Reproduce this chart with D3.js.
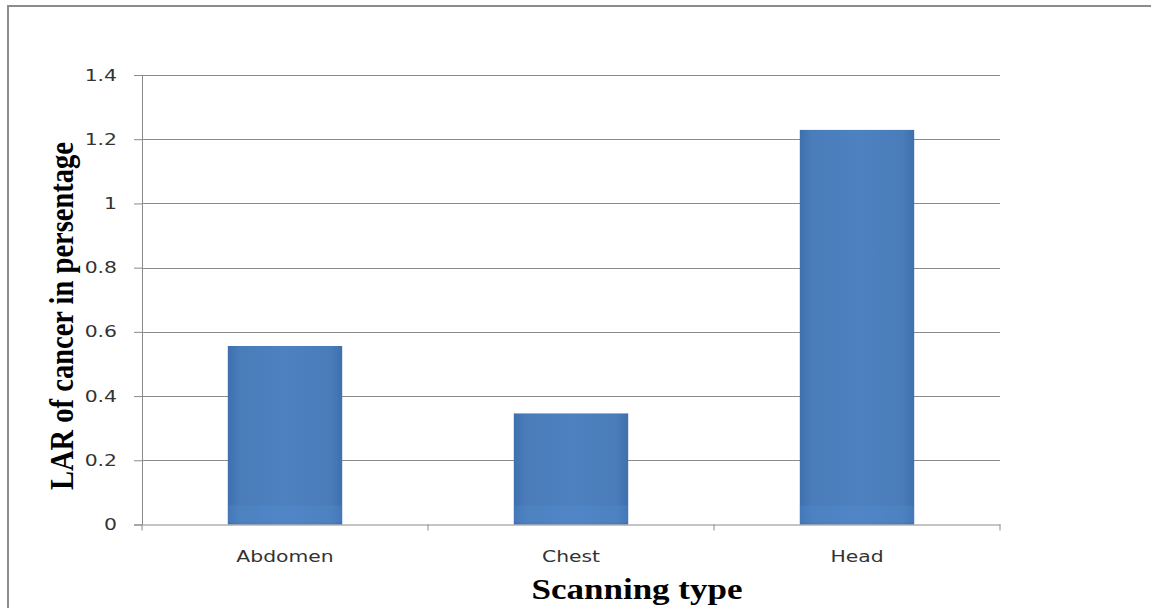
<!DOCTYPE html>
<html>
<head>
<meta charset="utf-8">
<script src="https://cdn.jsdelivr.net/npm/d3@7"></script>
<style>
  body { margin: 0; background: #fff; }
</style>
</head>
<body>
<div id="chart"></div>
<script>
// Data
const categories = ["Abdomen", "Chest", "Head"];
const larValues = [0.556, 0.346, 1.229];
const yTicks = [0, 0.2, 0.4, 0.6, 0.8, 1, 1.2, 1.4];

const W = 1151, H = 608;
const margin = { top: 75, right: 151, bottom: 83.5, left: 142 };
const width = W - margin.left - margin.right;
const height = H - margin.top - margin.bottom;

// the source picture is stretched sideways, so text gets widened a bit
const stretch = 1.27;

const root = d3.select("#chart")
  .append("svg")
  .attr("width", W)
  .attr("height", H);

// Outer frame (top and left edges visible)
root.append("path")
  .attr("d", `M8,${H} V6 H${W}`)
  .attr("fill", "none")
  .attr("stroke", "#8c8c8c")
  .attr("stroke-width", 2);

const defs = root.append("defs");
const grad = defs.append("linearGradient")
  .attr("id", "barGrad")
  .attr("x1", "0").attr("x2", "1").attr("y1", "0").attr("y2", "0");
grad.append("stop").attr("offset", "0%").attr("stop-color", "#3f6fae");
grad.append("stop").attr("offset", "10%").attr("stop-color", "#4a7cba");
grad.append("stop").attr("offset", "50%").attr("stop-color", "#4e81c0");
grad.append("stop").attr("offset", "90%").attr("stop-color", "#4a7cba");
grad.append("stop").attr("offset", "100%").attr("stop-color", "#3f6fae");

const svg = root.append("g")
  .attr("transform", `translate(${margin.left},${margin.top})`);

const x = d3.scaleBand()
  .domain(categories)
  .range([0, width])
  .paddingInner(0.6)
  .paddingOuter(0.3);

const y = d3.scaleLinear()
  .domain([0, 1.4])
  .range([height, 0]);

// Gridlines
svg.append("g")
  .selectAll("line")
  .data(yTicks.filter(d => d > 0))
  .enter()
  .append("line")
  .attr("x1", 0).attr("x2", width)
  .attr("y1", d => Math.round(y(d)) + 0.5)
  .attr("y2", d => Math.round(y(d)) + 0.5)
  .attr("stroke", "#8a8a8a");

// Bars
svg.selectAll(".bar")
  .data(categories)
  .enter()
  .append("rect")
  .attr("class", "bar")
  .attr("x", d => x(d))
  .attr("y", (d, i) => y(larValues[i]))
  .attr("width", x.bandwidth())
  .attr("height", (d, i) => height - y(larValues[i]))
  .attr("fill", "url(#barGrad)");

// lighter strip near the base of each bar
svg.selectAll(".base")
  .data(categories)
  .enter()
  .append("rect")
  .attr("class", "base")
  .attr("x", d => x(d))
  .attr("y", y(0) - 19)
  .attr("width", x.bandwidth())
  .attr("height", 17)
  .attr("fill", "#5a9ae0")
  .attr("opacity", 0.2);

function widen(sel) {
  sel.each(function() {
    const w = this.getComputedTextLength();
    d3.select(this)
      .attr("textLength", w * stretch)
      .attr("lengthAdjust", "spacingAndGlyphs");
  });
}

// Y axis
const yAxis = svg.append("g")
  .call(d3.axisLeft(y).tickValues(yTicks).tickSize(8).tickPadding(17).tickFormat(d3.format("")));
yAxis.select(".domain").attr("stroke", "#8a8a8a");
yAxis.selectAll(".tick line").attr("stroke", "#8a8a8a");
yAxis.selectAll("text")
  .attr("fill", "#333")
  .style("font-family", "'DejaVu Sans', sans-serif")
  .style("font-size", "16px")
  .call(widen);

// X axis with ticks at band boundaries
const xAxis = svg.append("g")
  .attr("transform", `translate(0,${height})`)
  .call(d3.axisBottom(x).tickSize(0).tickPadding(26));
xAxis.select(".domain").attr("stroke", "#8a8a8a");
xAxis.selectAll("text")
  .attr("fill", "#333")
  .style("font-family", "'DejaVu Sans', sans-serif")
  .style("font-size", "16px")
  .call(widen);

const step = x.step();
xAxis.selectAll(".sep")
  .data(d3.range(categories.length + 1))
  .enter()
  .append("line")
  .attr("class", "sep")
  .attr("x1", i => i * step).attr("x2", i => i * step)
  .attr("y1", 0).attr("y2", 6)
  .attr("stroke", "#8a8a8a");

// Axis titles
svg.append("text")
  .attr("x", 637 - margin.left)
  .attr("y", 599 - margin.top)
  .attr("text-anchor", "middle")
  .attr("textLength", 211)
  .attr("lengthAdjust", "spacingAndGlyphs")
  .style("font-family", "'Liberation Serif', 'Times New Roman', serif")
  .style("font-weight", "bold")
  .style("font-size", "30px")
  .text("Scanning type");

svg.append("text")
  .attr("transform", "rotate(-90)")
  .attr("x", -(316 - margin.top))
  .attr("y", 73 - margin.left)
  .attr("text-anchor", "middle")
  .attr("textLength", 348)
  .attr("lengthAdjust", "spacingAndGlyphs")
  .style("font-family", "'Liberation Serif', 'Times New Roman', serif")
  .style("font-weight", "bold")
  .style("font-size", "34px")
  .text("LAR of cancer in persentage");
</script>
</body>
</html>
